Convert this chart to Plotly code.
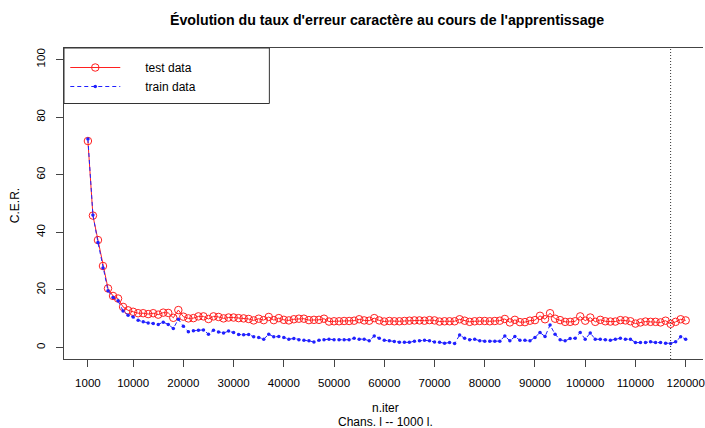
import plotly.graph_objects as go

iterations = [1000 * i for i in range(1, 121)]

test_cer = [
    71.7, 45.8, 37.3, 28.3, 20.5, 17.9, 17.0, 14.1, 12.9, 12.4,
    11.9, 11.9, 11.6, 11.9, 11.4, 12.1, 12.0, 10.3, 13.0, 10.7,
    10.1, 10.2, 10.8, 10.8, 9.9, 10.8, 10.6, 10.1, 10.4, 10.4,
    10.2, 10.1, 9.9, 9.4, 10.0, 9.5, 10.6, 9.5, 10.2, 9.6,
    9.4, 9.8, 10.0, 10.0, 9.5, 9.6, 9.6, 10.0, 9.0, 9.1,
    9.1, 9.2, 9.2, 9.3, 9.8, 9.4, 9.3, 10.2, 9.4, 9.0,
    9.2, 9.1, 9.1, 9.2, 9.3, 9.4, 9.4, 9.3, 9.5, 9.4,
    9.0, 9.1, 9.1, 9.1, 9.8, 9.3, 8.9, 9.1, 9.2, 9.2,
    9.1, 9.2, 9.3, 9.9, 8.7, 9.6, 8.8, 8.8, 9.3, 9.5,
    11.0, 9.8, 11.9, 10.0, 9.5, 8.9, 8.9, 9.1, 10.8, 9.3,
    10.4, 8.9, 9.6, 9.1, 9.0, 9.0, 9.5, 9.4, 9.1, 8.3,
    8.7, 9.0, 8.9, 8.9, 8.7, 9.3, 8.2, 8.9, 9.8, 9.4,
]

train_cer = [
    72.4, 46.0, 36.5, 27.6, 19.7, 17.4, 16.2, 12.7, 11.2, 10.6,
    9.5, 8.9, 8.5, 8.3, 8.0, 8.8, 8.0, 6.6, 9.8, 7.4,
    5.5, 5.8, 6.0, 6.1, 4.6, 6.0, 5.4, 5.0, 5.7, 5.2,
    4.5, 4.4, 4.5, 3.7, 3.5, 2.9, 4.6, 3.7, 3.8, 3.5,
    2.9, 3.1, 2.7, 2.5, 2.3, 1.9, 2.5, 2.7, 2.9, 2.7,
    2.7, 2.7, 2.7, 3.2, 2.9, 2.9, 2.3, 4.0, 3.2, 2.5,
    2.3, 2.1, 1.8, 1.8, 1.8, 2.2, 2.3, 2.5, 2.3, 1.9,
    1.8, 1.5, 1.7, 1.4, 4.3, 3.2, 2.7, 2.9, 2.3, 2.2,
    2.2, 2.2, 2.2, 4.0, 2.3, 3.8, 2.5, 2.5, 2.3, 3.5,
    5.2, 3.8, 7.8, 4.6, 2.7, 2.3, 3.1, 3.2, 5.2, 2.9,
    5.0, 2.9, 2.9, 2.7, 2.5, 2.9, 3.2, 2.9, 2.9, 1.7,
    1.7, 1.7, 2.0, 1.7, 1.7, 1.5, 1.4, 2.0, 3.7, 2.9,
]

x_ticks = [1000] + [10000 * k for k in range(1, 13)]
x_ticklabels = [str(v) for v in x_ticks]
y_ticks = [0, 20, 40, 60, 80, 100]
best_iter = 117000

title_text = "Évolution du taux d'erreur caractère au cours de l'apprentissage"
xlabel = "n.iter"
xsub = "Chans. l -- 1000 l."
ylabel = "C.E.R."
legend_names = ["test data", "train data"]

FONT = "Liberation Sans, Arial, Helvetica, sans-serif"
AX = "#444444"
PAD = "\u00a0" * 6

fig = go.Figure()
fig.add_trace(go.Scatter(
    x=iterations, y=test_cer, name=PAD + legend_names[0], mode="lines+markers",
    line=dict(color="#ff2020", width=1),
    marker=dict(symbol="circle-open", size=7.5, color="#ff2020", line=dict(width=1, color="#ff2020")),
))
fig.add_trace(go.Scatter(
    x=iterations, y=train_cer, name=PAD + legend_names[1], mode="lines+markers",
    line=dict(color="#2020ff", width=1, dash="4px,3px"),
    marker=dict(symbol="circle", size=3.5, color="#2020ff"),
))

fig.add_shape(type="line", xref="x", yref="paper", x0=best_iter, x1=best_iter, y0=0, y1=1,
              line=dict(color="#333333", width=1, dash="1px,2px"))
# legend box
fig.add_shape(type="rect", xref="paper", yref="paper", x0=0, x1=0.3214, y0=0.8215, y1=1,
              line=dict(color="#333333", width=1), fillcolor="rgba(0,0,0,0)")

pw, ph, l, t = 641, 311, 64, 48
def px(xp): return (xp - l) / pw
def py(yp): return 1 - (yp - t) / ph

fig.update_layout(
    width=705, height=428,
    margin=dict(l=64, r=0, t=48, b=69),
    paper_bgcolor="white", plot_bgcolor="white",
    font=dict(family=FONT, size=12, color="black"),
    showlegend=True,
    legend=dict(x=0.002, y=py(53), xanchor="left", yanchor="top", bgcolor="rgba(0,0,0,0)",
                borderwidth=0, font=dict(size=12), itemwidth=50, tracegroupgap=0),
    annotations=[
        dict(text="<b>" + title_text + "</b>", x=px(388), y=py(20), xref="paper", yref="paper",
             showarrow=False, font=dict(size=14.2), xanchor="center", yanchor="middle"),
        dict(text=xlabel, x=px(387), y=py(408), xref="paper", yref="paper", showarrow=False,
             xanchor="center", yanchor="middle"),
        dict(text=xsub, x=px(387), y=py(421.5), xref="paper", yref="paper", showarrow=False,
             xanchor="center", yanchor="middle"),
        dict(text=ylabel, x=px(15), y=py(206), xref="paper", yref="paper", showarrow=False,
             textangle=-90, xanchor="center", yanchor="middle"),
    ],
)

fig.update_xaxes(range=[-3760, 123448], tickvals=x_ticks, ticktext=x_ticklabels,
                 showgrid=False, zeroline=False, showline=True, linecolor=AX, linewidth=1,
                 mirror=True, ticks="outside", ticklen=7, tickcolor=AX, tickwidth=1,
                 tickfont=dict(size=11.5), ticklabelstandoff=6, ticklabeloverflow="allow")
fig.update_yaxes(range=[-4, 104], tickvals=y_ticks,
                 showgrid=False, zeroline=False, showline=True, linecolor=AX, linewidth=1,
                 mirror=False, ticks="outside", ticklen=7, tickcolor=AX, tickwidth=1,
                 tickangle=-90, tickfont=dict(size=11.5), ticklabelstandoff=6)

fig.write_html("out.html", config={"displayModeBar": False},
               post_script="document.body.style.margin='0';")
